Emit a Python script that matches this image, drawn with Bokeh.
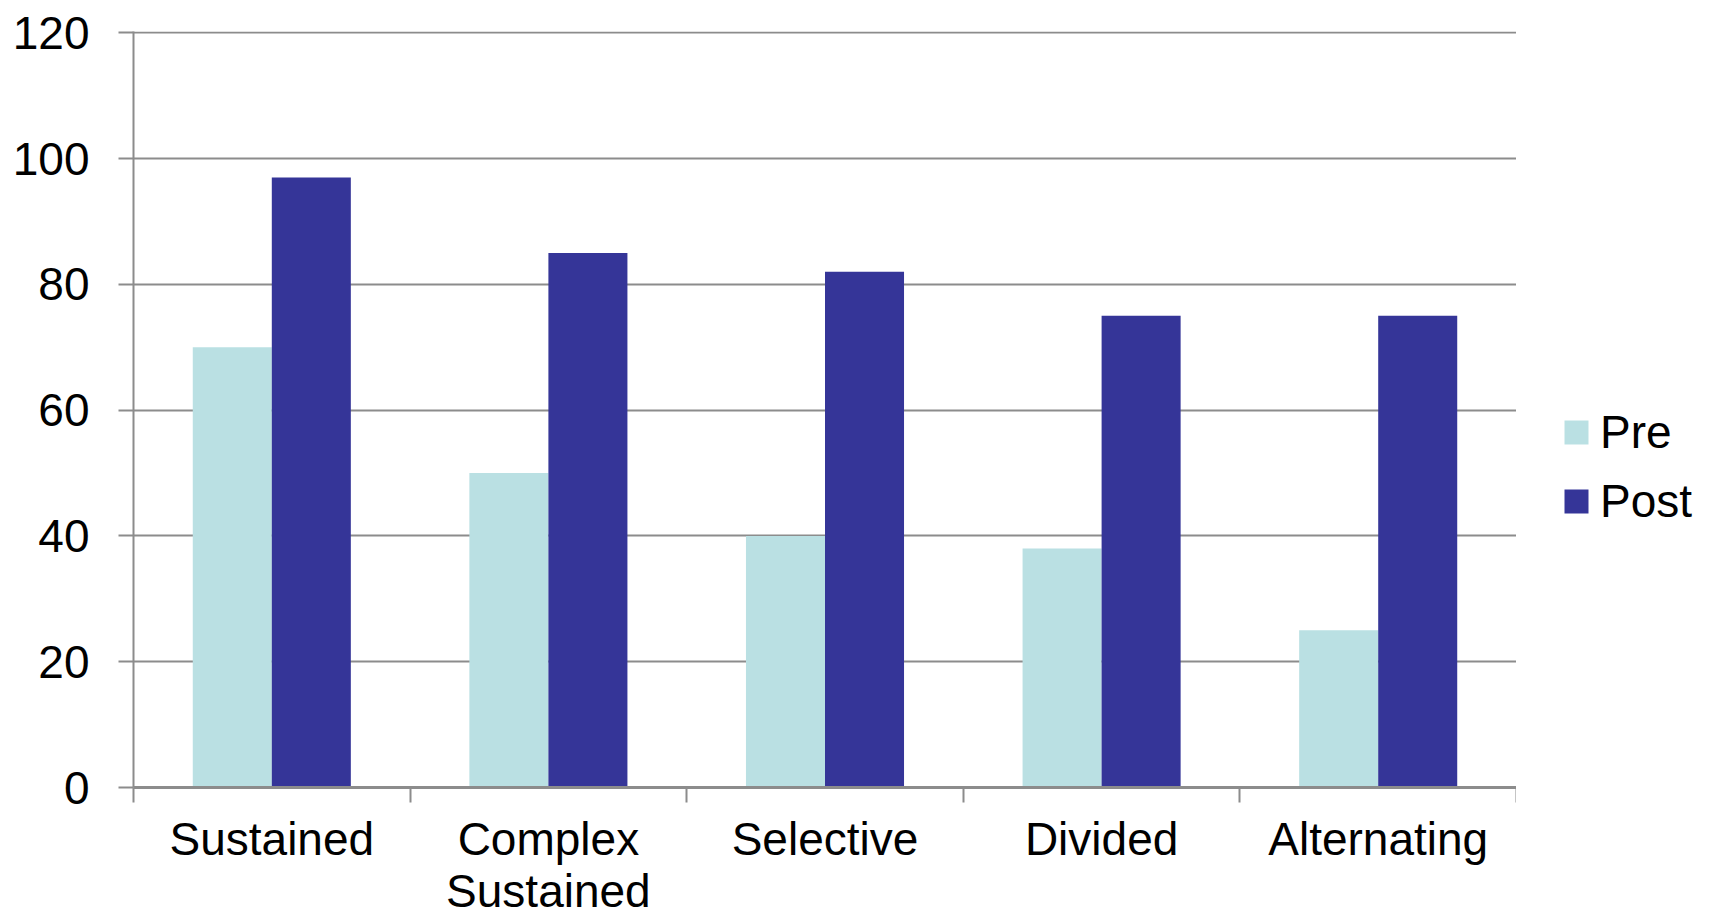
from bokeh.plotting import figure
from bokeh.models import FixedTicker, Legend, LegendItem, ColumnDataSource
from bokeh.layouts import row
from bokeh.transform import dodge
from bokeh.embed import file_html
from bokeh.resources import INLINE

categories = ["Sustained", "Complex\nSustained", "Selective", "Divided", "Alternating"]
pre = [70, 50, 40, 38, 25]
post = [97, 85, 82, 75, 75]
y_ticks = [0, 20, 40, 60, 80, 100, 120]
series_names = ["Pre", "Post"]

PRE_COLOR = "#BAE0E3"
POST_COLOR = "#353598"
GRID = "#8C8C8C"
FONT = "Liberation Sans"

centers = [i + 0.5 for i in range(len(categories))]
src = ColumnDataSource(dict(x=centers, pre=pre, post=post))

bw = 1 / 3.5

p = figure(width=1516, height=919, x_range=(0, len(categories)), y_range=(0, 120.2),
           output_backend="svg", toolbar_location=None,
           min_border_left=133, min_border_right=0, min_border_top=31, min_border_bottom=132)
p.outline_line_color = None
p.background_fill_color = "white"
p.border_fill_color = "white"

p.vbar(x=dodge("x", -bw / 2, range=p.x_range), top="pre", width=bw, source=src,
       fill_color=PRE_COLOR, line_color=None)
p.vbar(x=dodge("x", bw / 2, range=p.x_range), top="post", width=bw, source=src,
       fill_color=POST_COLOR, line_color=None)

# x axis
p.xaxis.ticker = FixedTicker(ticks=centers, minor_ticks=list(range(len(categories) + 1)))
p.xaxis.major_label_overrides = {c: lab for c, lab in zip(centers, categories)}
p.xaxis.major_tick_out = 0
p.xaxis.major_tick_in = 0
p.xaxis.minor_tick_out = 15
p.xaxis.minor_tick_in = 0
p.xaxis.minor_tick_line_color = GRID
p.xaxis.minor_tick_line_width = 2
p.xaxis.axis_line_color = GRID
p.xaxis.axis_line_width = 3
p.xaxis.major_label_text_font = FONT
p.xaxis.major_label_text_font_size = "46px"
p.xaxis.major_label_text_line_height = 1.0
p.xaxis.major_label_text_color = "black"
p.xaxis.major_label_standoff = 10
p.xgrid.grid_line_color = None

# y axis
p.yaxis.ticker = FixedTicker(ticks=y_ticks)
p.yaxis.major_tick_out = 15
p.yaxis.major_tick_in = 0
p.yaxis.minor_tick_line_color = None
p.yaxis.major_tick_line_color = GRID
p.yaxis.major_tick_line_width = 2
p.yaxis.axis_line_color = GRID
p.yaxis.axis_line_width = 2
p.yaxis.major_label_text_font = FONT
p.yaxis.major_label_text_font_size = "46px"
p.yaxis.major_label_text_color = "black"
p.yaxis.major_label_standoff = 29
p.ygrid.grid_line_color = GRID
p.ygrid.grid_line_width = 2

# legend panel (separate figure to the right of the chart)
lg = figure(width=193, height=919, x_range=(0, len(categories)), y_range=(0, 120),
            output_backend="svg", toolbar_location=None,
            min_border_left=0, min_border_right=0, min_border_top=0, min_border_bottom=0)
lg.axis.visible = False
lg.grid.grid_line_color = None
lg.outline_line_color = None
lg.border_fill_color = "white"
k_pre = lg.vbar(x="x", top="pre", width=bw, source=src, fill_color=PRE_COLOR,
                line_color=None, visible=False)
k_post = lg.vbar(x="x", top="post", width=bw, source=src, fill_color=POST_COLOR,
                 line_color=None, visible=False)

legend = Legend(items=[LegendItem(label=series_names[0], renderers=[k_pre]),
                       LegendItem(label=series_names[1], renderers=[k_post])],
                location=(45, 259))
legend.glyph_width = 30
legend.glyph_height = 30
legend.label_text_font = FONT
legend.label_text_font_size = "46px"
legend.label_text_color = "black"
legend.label_standoff = 9
legend.spacing = 15
legend.padding = 0
legend.margin = 0
legend.border_line_color = None
legend.background_fill_alpha = 0
legend.inactive_fill_alpha = 0
lg.add_layout(legend, "center")

layout = row(p, lg)
open("out.html", "w").write(file_html(layout, INLINE))
